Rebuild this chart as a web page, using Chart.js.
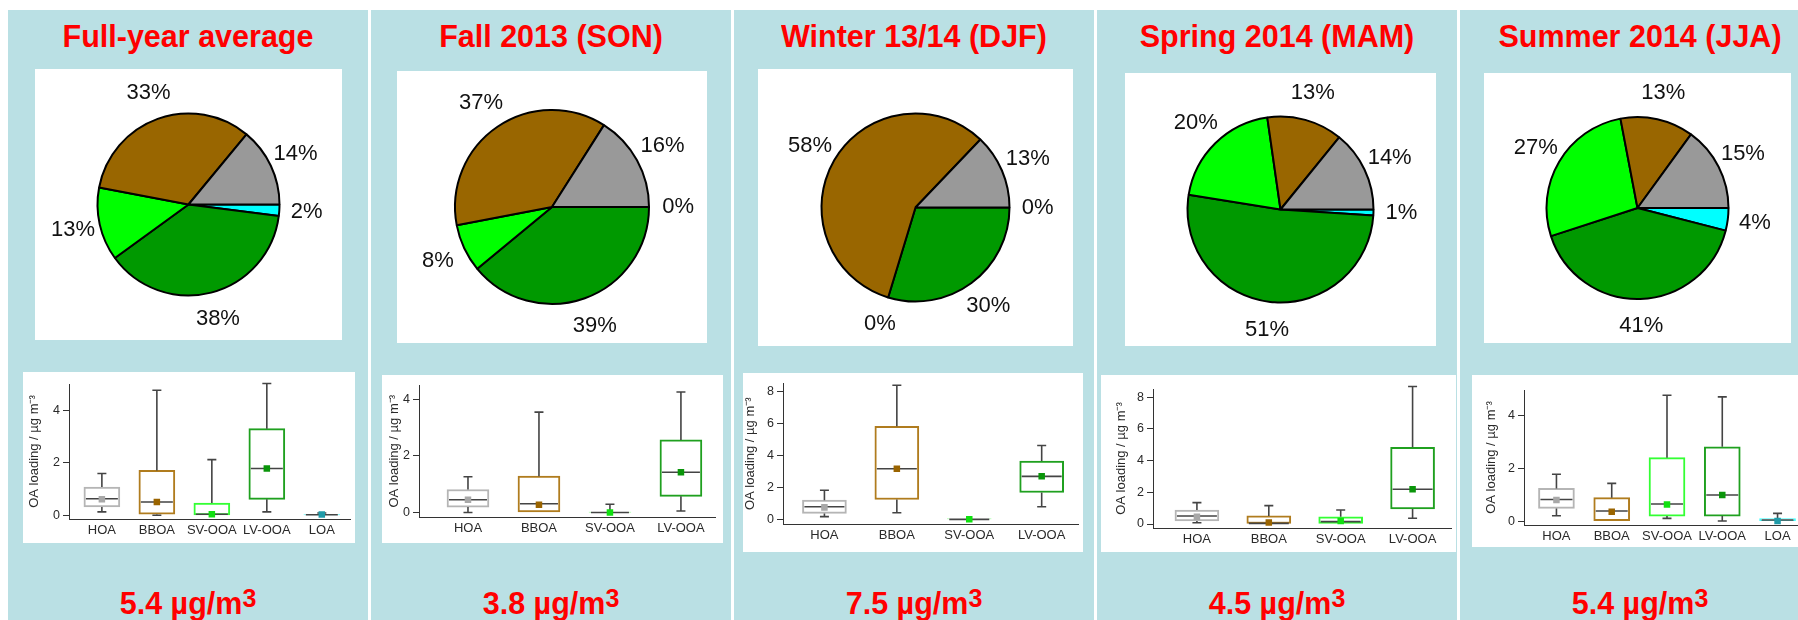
<!DOCTYPE html>
<html>
<head>
<meta charset="utf-8">
<script src="https://cdn.jsdelivr.net/npm/chart.js@4.4.1/dist/chart.umd.min.js"></script>
<style>
  html, body { margin: 0; padding: 0; }
  body {
    width: 1798px; height: 620px; position: relative; overflow: hidden;
    background: #ffffff; font-family: "Liberation Sans", Arial, sans-serif;
  }
  .panel { position: absolute; top: 10px; height: 610px; width: 360px; background: #bae0e4; }
  .title, .total {
    position: absolute; left: 0; width: 100%; text-align: center; white-space: nowrap;
    color: #ff0000; font-weight: bold; font-size: 30.5px; line-height: 30.5px;
    transform: scaleY(1.05); transform-origin: 50% 85%;
  }
  .title { top: 11px; }
  .total { top: 578px; }
  .total sup { font-size: 0.82em; vertical-align: baseline; position: relative; top: -7px; }
  canvas { position: absolute; background: #ffffff; }
</style>
</head>
<body>
<script>
// ---- data -------------------------------------------------------------
const components = ['HOA', 'BBOA', 'SV-OOA', 'LV-OOA', 'LOA'];
const componentsNoLoa = ['HOA', 'BBOA', 'SV-OOA', 'LV-OOA'];

const periodTitles = ['Full-year average', 'Fall 2013 (SON)', 'Winter 13/14 (DJF)', 'Spring 2014 (MAM)', 'Summer 2014 (JJA)'];
const totalLoadings = ['5.4', '3.8', '7.5', '4.5', '5.4'];

// share of total OA per factor (%), order: HOA, BBOA, SV-OOA, LV-OOA, LOA
const shareFullYear = [14, 33, 13, 38, 2];
const shareFall     = [16, 37, 8, 39, 0];
const shareWinter   = [13, 58, 0, 30, 0];
const shareSpring   = [14, 13, 20, 51, 1];
const shareSummer   = [15, 13, 27, 41, 4];

// OA loading statistics (µg m-3): whisker low, Q1, median, Q3, whisker high, mean
const fullYearLow    = [0.13, 0.00, 0.00, 0.13, 0.00];
const fullYearQ1     = [0.32, 0.04, 0.00, 0.61, 0.00];
const fullYearMedian = [0.63, 0.51, 0.04, 1.78, 0.02];
const fullYearQ3     = [1.08, 1.71, 0.47, 3.30, 0.03];
const fullYearHigh   = [1.59, 4.76, 2.12, 5.02, 0.09];
const fullYearMean   = [0.61, 0.51, 0.04, 1.78, 0.03];

const fallLow    = [0.00, 0.00, 0.00, 0.05];
const fallQ1     = [0.19, 0.00, 0.00, 0.57];
const fallMedian = [0.45, 0.31, 0.00, 1.42];
const fallQ3     = [0.81, 1.28, 0.01, 2.56];
const fallHigh   = [1.26, 3.54, 0.29, 4.25];
const fallMean   = [0.45, 0.27, 0.00, 1.42];

const winterLow    = [0.17, 0.41, 0.00, 0.79];
const winterQ1     = [0.37, 1.24, 0.00, 1.68];
const winterMedian = [0.79, 3.17, 0.00, 2.69];
const winterQ3     = [1.20, 5.82, 0.02, 3.65];
const winterHigh   = [1.82, 8.39, 0.02, 4.62];
const winterMean   = [0.75, 3.17, 0.00, 2.69];

const springLow    = [0.08, 0.00, 0.00, 0.36];
const springQ1     = [0.19, 0.00, 0.00, 0.95];
const springMedian = [0.51, 0.04, 0.15, 2.19];
const springQ3     = [0.88, 0.51, 0.46, 4.84];
const springHigh   = [1.35, 1.16, 0.88, 8.67];
const springMean   = [0.46, 0.10, 0.19, 2.19];

const summerLow    = [0.20, 0.00, 0.10, 0.00, 0.00];
const summerQ1     = [0.48, 0.00, 0.19, 0.19, 0.00];
const summerMedian = [0.82, 0.38, 0.65, 0.99, 0.04];
const summerQ3     = [1.24, 0.89, 2.41, 2.82, 0.09];
const summerHigh   = [1.78, 1.43, 4.78, 4.72, 0.29];
const summerMean   = [0.80, 0.35, 0.63, 0.99, 0.00];

const ticksToFour  = [0, 2, 4];
const ticksToEight = [0, 2, 4, 6, 8];

// ---- styling ----------------------------------------------------------
const sliceColors = { 'HOA': '#999999', 'BBOA': '#996600', 'SV-OOA': '#00ff00', 'LV-OOA': '#009900', 'LOA': '#00ffff' };
const boxColors   = { 'HOA': '#b5b5b5', 'BBOA': '#b07c1e', 'SV-OOA': '#33ff33', 'LV-OOA': '#1fa01f', 'LOA': '#40ffff' };
const meanColors  = { 'HOA': '#a8a8a8', 'BBOA': '#9a6400', 'SV-OOA': '#10e010', 'LV-OOA': '#0a950a', 'LOA': '#1f9aa8' };

const FONT = '"Liberation Sans", Arial, sans-serif';
Chart.defaults.font.family = FONT;

const panelLefts = [8, 371, 734, 1097, 1460];

const pieFrames = [
  { left: 35,   top: 69, width: 307, height: 271, radius: 91 },
  { left: 397,  top: 71, width: 310, height: 272, radius: 97 },
  { left: 758,  top: 69, width: 315, height: 277, radius: 94 },
  { left: 1125, top: 73, width: 311, height: 273, radius: 93 },
  { left: 1484, top: 73, width: 307, height: 270, radius: 91 }
];

const boxFrames = [
  { left: 23,   top: 372, width: 332, height: 171, axisW: 46, axisH: 24, padTop: 12, padRight: 3, xMin: -0.598, xMax: 4.52, yMin: -0.14, yMax: 5.0, barW: 36, titlePad: 4 },
  { left: 382,  top: 375, width: 341, height: 168, axisW: 37, axisH: 26, padTop: 7,  padRight: 8, xMin: -0.69,  xMax: 3.48, yMin: -0.16, yMax: 4.48, barW: 42, titlePad: 5 },
  { left: 743,  top: 373, width: 340, height: 179, axisW: 40, axisH: 28, padTop: 10, padRight: 1, xMin: -0.572, xMax: 3.507, yMin: -0.29, yMax: 8.5, barW: 44, titlePad: 0 },
  { left: 1101, top: 375, width: 355, height: 177, axisW: 52, axisH: 24, padTop: 14, padRight: 4, xMin: -0.611, xMax: 3.54, yMin: -0.25, yMax: 8.51, barW: 44, titlePad: 13 },
  { left: 1472, top: 375, width: 340, height: 172, axisW: 52, axisH: 22, padTop: 15, padRight: 0, xMin: -0.587, xMax: 4.54, yMin: -0.15, yMax: 4.98, barW: 36, titlePad: 12 }
];

const panels = [
  { title: periodTitles[0], total: totalLoadings[0], share: shareFullYear, cats: components,
    low: fullYearLow, q1: fullYearQ1, median: fullYearMedian, q3: fullYearQ3, high: fullYearHigh, mean: fullYearMean, yTicks: ticksToFour },
  { title: periodTitles[1], total: totalLoadings[1], share: shareFall, cats: componentsNoLoa,
    low: fallLow, q1: fallQ1, median: fallMedian, q3: fallQ3, high: fallHigh, mean: fallMean, yTicks: ticksToFour },
  { title: periodTitles[2], total: totalLoadings[2], share: shareWinter, cats: componentsNoLoa,
    low: winterLow, q1: winterQ1, median: winterMedian, q3: winterQ3, high: winterHigh, mean: winterMean, yTicks: ticksToEight },
  { title: periodTitles[3], total: totalLoadings[3], share: shareSpring, cats: componentsNoLoa,
    low: springLow, q1: springQ1, median: springMedian, q3: springQ3, high: springHigh, mean: springMean, yTicks: ticksToEight },
  { title: periodTitles[4], total: totalLoadings[4], share: shareSummer, cats: components,
    low: summerLow, q1: summerQ1, median: summerMedian, q3: summerQ3, high: summerHigh, mean: summerMean, yTicks: ticksToFour }
];

// ---- plugins ----------------------------------------------------------
// percentage labels placed outside each slice, on the slice's mid angle
const pieLabelPlugin = {
  id: 'pieLabels',
  afterDatasetsDraw(chart) {
    const ctx = chart.ctx;
    const meta = chart.getDatasetMeta(0);
    const values = chart.data.datasets[0].data;
    ctx.save();
    ctx.font = '22px ' + FONT;
    ctx.fillStyle = '#111111';
    ctx.textAlign = 'center';
    ctx.textBaseline = 'middle';
    meta.data.forEach((arc, i) => {
      const mid = (arc.startAngle + arc.endAngle) / 2;
      const d = arc.outerRadius * 1.3;
      ctx.fillText(values[i] + '%', arc.x + Math.cos(mid) * d, arc.y + Math.sin(mid) * d);
    });
    ctx.restore();
  }
};

// whiskers (with caps) and median lines on top of the Q1-Q3 boxes
const whiskerPlugin = {
  id: 'whiskers',
  afterDatasetDraw(chart, args) {
    if (args.index !== 0) return;
    const ds = chart.data.datasets[0];
    const y = chart.scales.y;
    const ctx = chart.ctx;
    const cap = 4.5;
    ctx.save();
    ctx.strokeStyle = '#444444';
    ctx.lineWidth = 1.6;
    args.meta.data.forEach((bar, i) => {
      const cx = bar.x;
      const half = bar.width / 2;
      const pLow = y.getPixelForValue(ds.whiskerLow[i]);
      const pQ1 = y.getPixelForValue(ds.data[i].y[0]);
      const pQ3 = y.getPixelForValue(ds.data[i].y[1]);
      const pHigh = y.getPixelForValue(ds.whiskerHigh[i]);
      const pMed = y.getPixelForValue(ds.medians[i]);
      ctx.beginPath();
      if (pLow - pQ1 > 1) {
        ctx.moveTo(cx, pQ1); ctx.lineTo(cx, pLow);
        ctx.moveTo(cx - cap, pLow); ctx.lineTo(cx + cap, pLow);
      }
      if (pQ3 - pHigh > 1) {
        ctx.moveTo(cx, pQ3); ctx.lineTo(cx, pHigh);
        ctx.moveTo(cx - cap, pHigh); ctx.lineTo(cx + cap, pHigh);
      }
      ctx.moveTo(cx - half + 2, pMed); ctx.lineTo(cx + half - 2, pMed);
      ctx.stroke();
    });
    ctx.restore();
  }
};

// ---- build ------------------------------------------------------------
function makeCanvas(frame) {
  const c = document.createElement('canvas');
  c.width = frame.width; c.height = frame.height;
  c.style.left = frame.left + 'px'; c.style.top = frame.top + 'px';
  c.style.width = frame.width + 'px'; c.style.height = frame.height + 'px';
  document.body.appendChild(c);
  return c;
}

panels.forEach((p, k) => {
  const panel = document.createElement('div');
  panel.className = 'panel';
  panel.style.left = panelLefts[k] + 'px';
  panel.innerHTML = '<div class="title">' + p.title + '</div>' +
                    '<div class="total">' + p.total + ' µg/m<sup>3</sup></div>';
  document.body.appendChild(panel);
});

panels.forEach((p, k) => {
  // pie: slices run counter-clockwise from 3 o'clock (HOA first), so feed Chart.js
  // the reversed order, which it draws clockwise from 3 o'clock
  const pf = pieFrames[k];
  const names = components.slice().reverse();
  const shares = p.share.slice().reverse();
  new Chart(makeCanvas(pf), {
    type: 'pie',
    data: {
      labels: names,
      datasets: [{
        data: shares,
        backgroundColor: names.map(n => sliceColors[n]),
        borderColor: '#000000',
        borderWidth: 2,
        rotation: 90,
        radius: pf.radius
      }]
    },
    options: {
      responsive: false, animation: false,
      layout: { padding: 0 },
      plugins: { legend: { display: false }, tooltip: { enabled: false } }
    },
    plugins: [pieLabelPlugin]
  });

  // box plot
  const bf = boxFrames[k];
  const cats = p.cats;
  new Chart(makeCanvas(bf), {
    type: 'bar',
    data: {
      datasets: [
        {
          type: 'bar',
          order: 1,
          data: cats.map((c, i) => ({ x: i, y: [p.q1[i], p.q3[i]] })),
          whiskerLow: p.low, whiskerHigh: p.high, medians: p.median,
          backgroundColor: '#ffffff',
          borderColor: cats.map(c => boxColors[c]),
          borderWidth: 2,
          borderSkipped: false,
          barThickness: bf.barW
        },
        {
          type: 'line',
          order: 0,
          showLine: false,
          data: cats.map((c, i) => ({ x: i, y: p.mean[i] })),
          pointStyle: 'rect',
          pointRadius: 4.6,
          pointBorderWidth: 0,
          pointBackgroundColor: cats.map(c => meanColors[c])
        }
      ]
    },
    options: {
      responsive: false, animation: false,
      layout: { padding: { top: bf.padTop, right: bf.padRight, left: 0, bottom: 0 } },
      plugins: { legend: { display: false }, tooltip: { enabled: false } },
      scales: {
        x: {
          type: 'linear', min: bf.xMin, max: bf.xMax, offset: false,
          grid: { display: false, drawTicks: false },
          border: { display: true, color: '#333333', width: 1 },
          afterBuildTicks: s => { s.ticks = cats.map((c, i) => ({ value: i })); },
          ticks: {
            autoSkip: false, maxRotation: 0, padding: 4, color: '#2a2a2a',
            font: { size: 13 },
            callback: v => cats[v] !== undefined ? cats[v] : ''
          },
          afterFit: s => { s.height = bf.axisH; }
        },
        y: {
          type: 'linear', min: bf.yMin, max: bf.yMax,
          grid: { display: true, drawOnChartArea: false, drawTicks: true, tickLength: 6, color: '#333333' },
          border: { display: true, color: '#333333', width: 1 },
          afterBuildTicks: s => { s.ticks = p.yTicks.map(v => ({ value: v })); },
          ticks: { padding: 3, color: '#2a2a2a', font: { size: 12.5 }, callback: v => String(v) },
          title: {
            display: true, text: 'OA loading / µg m⁻³', color: '#2a2a2a',
            font: { size: 13 }, padding: { top: bf.titlePad, bottom: 0 }
          },
          afterFit: s => { s.width = bf.axisW; }
        }
      }
    },
    plugins: [whiskerPlugin]
  });
});
</script>
</body>
</html>
